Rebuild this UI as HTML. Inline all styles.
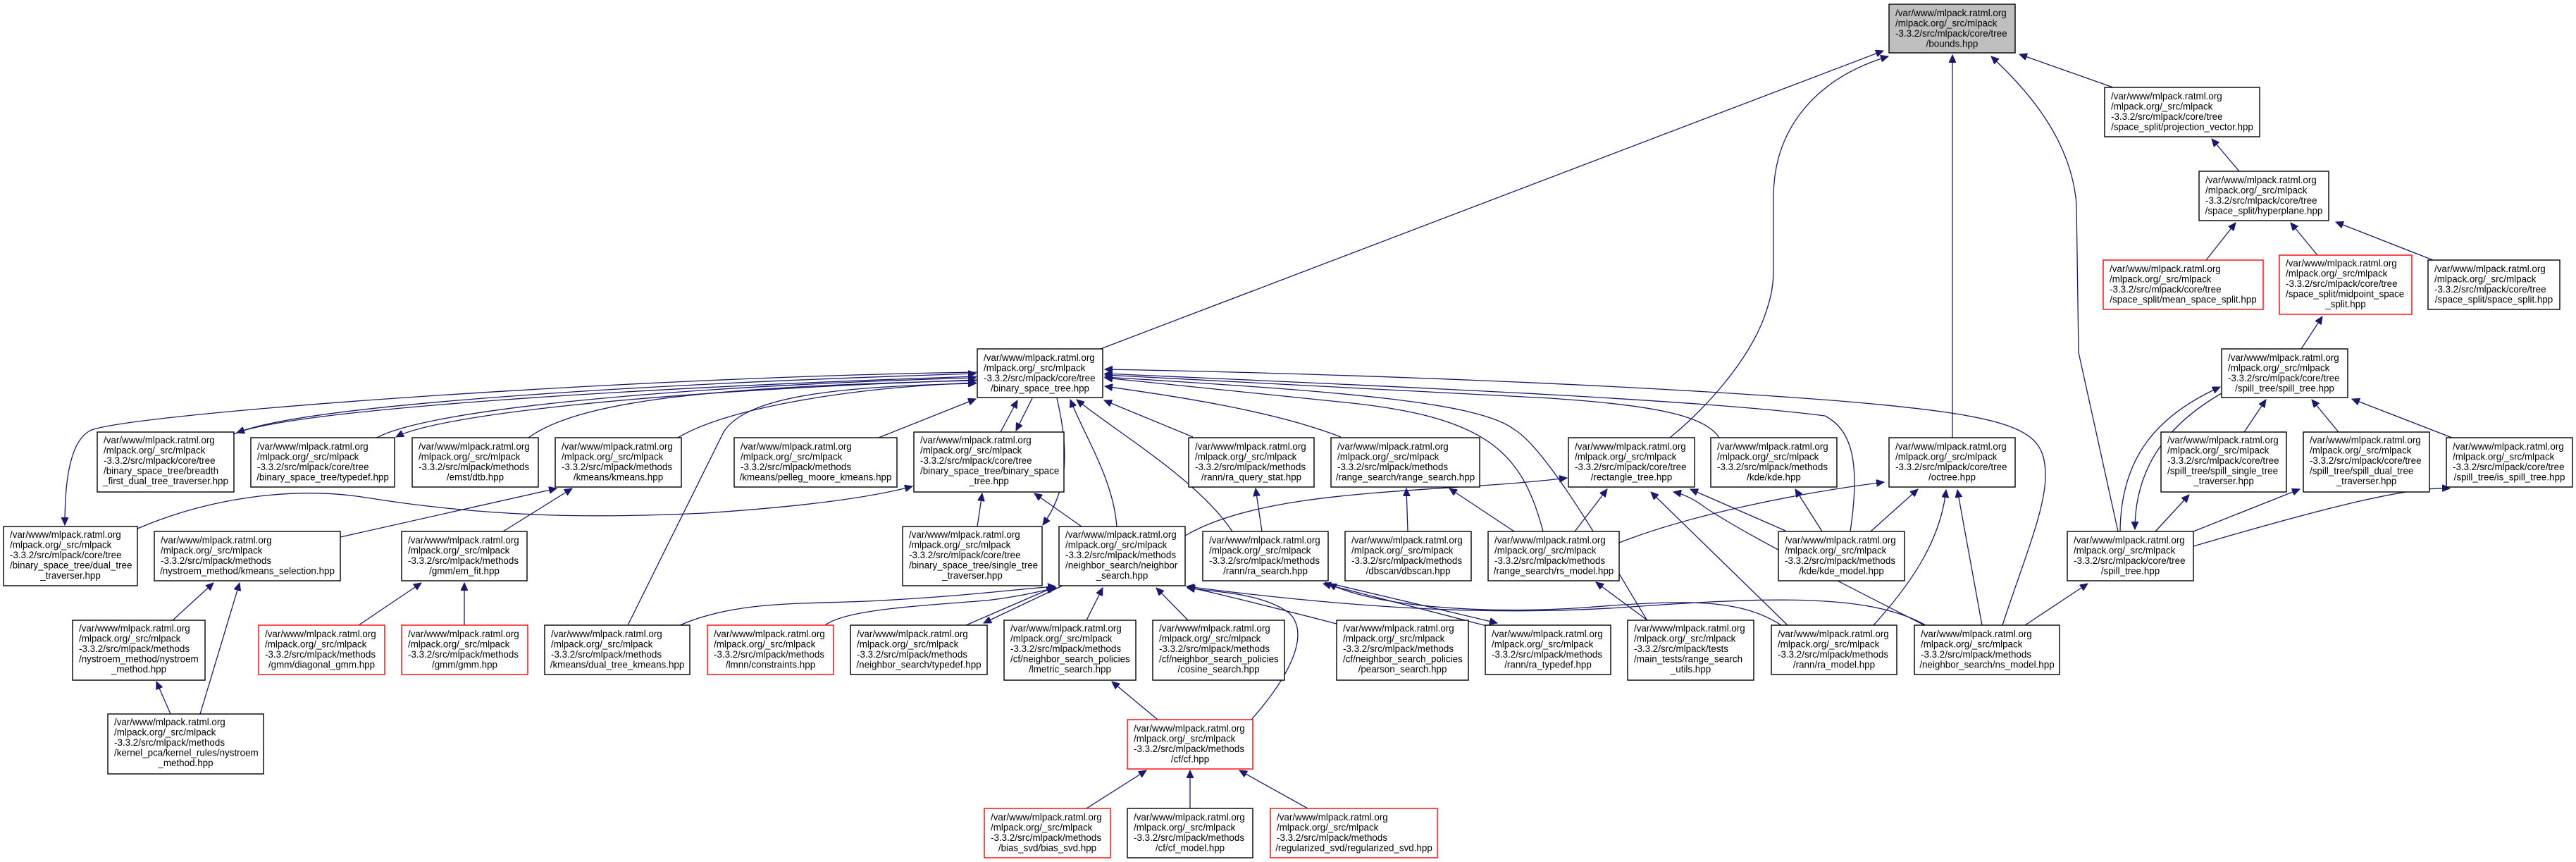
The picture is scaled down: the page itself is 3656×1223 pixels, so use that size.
<!DOCTYPE html>
<html><head><meta charset="utf-8"><style>
html,body{margin:0;padding:0;background:#fff;}
svg{display:block;}
text{font-family:"Liberation Sans",Arial,sans-serif;font-size:13.4px;fill:#000;}
.n{fill:#fff;stroke:#000;stroke-width:1.4;}
.r{fill:#fff;stroke:#ff0000;stroke-width:1.4;}
.g{fill:#bfbfbf;stroke:#000;stroke-width:1.4;}
path.e{fill:none;stroke:#191970;stroke-width:1.3;marker-end:url(#a);}
</style></head><body>
<svg width="3656" height="1223" viewBox="0 0 3656 1223" xmlns="http://www.w3.org/2000/svg">
<defs><marker id="a" markerUnits="userSpaceOnUse" markerWidth="12" markerHeight="10" refX="11" refY="5" orient="auto"><path d="M0,0 L11,5 L0,10 z" fill="#191970" stroke="#191970"/></marker></defs>

<!-- EDGES -->
<path class="e" d="M1562,495 L2673,72"/>
<path class="e" d="M2370,621 C2420,580 2474,520 2500,460 C2516,420 2517,400 2517,380 L2517,280 C2517,180 2580,110 2680,80"/>
<path class="e" d="M2771,621 L2771,78"/>
<path class="e" d="M3006,754 L2950,500 L2947,290 C2940,200 2880,130 2826,80"/>
<path class="e" d="M2999,124 L2866,77"/>
<path class="e" d="M3178,243 L3139,197"/>
<path class="e" d="M3131,369 L3173,316"/>
<path class="e" d="M3289,362 L3251,316"/>
<path class="e" d="M3453,369 L3315,315"/>
<path class="e" d="M3266,495 L3296,449"/>
<path class="e" d="M3185,613 L3216,567"/>
<path class="e" d="M3319,613 L3281,567"/>
<path class="e" d="M3480,621 L3338,566"/>
<path class="e" d="M3009,754 C3010,650 3060,590 3151,549"/>
<path class="e" d="M3153,558 C3080,600 3030,660 3030,751"/>
<path class="e" d="M3059,754 L3107,702"/>
<path class="e" d="M3113,754 L3264,694"/>
<path class="e" d="M3113,775 C3300,720 3420,690 3477,693"/>
<path class="e" d="M2874,887 L2963,828"/>

<!-- bst connections -->
<path class="e" d="M332,616 C420,575 900,545 1385,530"/>
<path class="e" d="M1387,534 C900,550 430,580 336,614"/>
<path class="e" d="M535,621 C600,585 900,550 1385,536"/>
<path class="e" d="M1387,539 C900,556 620,590 562,620"/>
<path class="e" d="M750,621 C820,570 1000,548 1385,540"/>
<path class="e" d="M962,621 C1030,580 1200,550 1385,543"/>
<path class="e" d="M1247,621 L1385,566"/>
<path class="e" d="M1387,528 C900,535 200,585 130,610 C95,625 92,700 92,745"/>
<path class="e" d="M195,750 C300,705 420,690 520,706 C700,735 850,735 1000,728 C1150,718 1240,705 1295,690"/>
<path class="e" d="M891,887 L1027,613 C1060,560 1200,548 1385,544"/>
<path class="e" d="M1420,613 L1444,568"/>
<path class="e" d="M1465,565 L1442,611"/>
<path class="e" d="M1500,565 C1520,650 1512,700 1480,745"/>
<path class="e" d="M1387,747 L1394,700"/>
<path class="e" d="M1535,747 L1468,700"/>
<path class="e" d="M1585,747 C1580,680 1540,620 1519,567"/>
<path class="e" d="M1749,754 C1700,680 1580,610 1528,567"/>
<path class="e" d="M1693,620 L1567,568"/>
<path class="e" d="M1903,620 C1800,580 1650,560 1568,548"/>
<path class="e" d="M1791,754 L1782,693"/>
<path class="e" d="M1998,754 L1996,693"/>
<path class="e" d="M2149,754 L2057,693"/>
<path class="e" d="M1682,760 C1800,690 2050,700 2224,678"/>
<path class="e" d="M2235,754 L2281,694"/>
<path class="e" d="M2190,754 C2160,640 2110,590 1900,570 L1568,536"/>
<path class="e" d="M2342,887 C2300,820 2200,640 2150,610 C2100,570 1900,555 1568,535"/>
<path class="e" d="M2298,770 C2400,730 2550,700 2674,684"/>
<path class="e" d="M2440,621 C2420,590 2350,575 2200,565 L1568,532"/>
<path class="e" d="M2537,887 L2343,698"/>
<path class="e" d="M2731,887 C2600,820 2480,760 2420,720 C2400,705 2385,700 2375,698"/>
<path class="e" d="M2534,753 L2399,694"/>
<path class="e" d="M2586,754 L2548,694"/>
<path class="e" d="M2655,754 L2722,694"/>
<path class="e" d="M2626,754 C2640,660 2630,610 2590,590 C2400,565 1900,545 1568,530"/>
<path class="e" d="M2659,887 C2720,820 2755,760 2762,695"/>
<path class="e" d="M2813,887 L2778,695"/>
<path class="e" d="M2842,887 C2870,800 2905,720 2903,670 C2900,610 2870,590 2600,568 C2300,545 1900,530 1568,524"/>
<path class="e" d="M2338,880 L2265,826"/>
<path class="e" d="M2528,887 C2470,850 2400,850 2250,862 C2100,872 1950,860 1886,828"/>
<path class="e" d="M2733,887 C2650,840 2500,848 2300,862 C2100,875 1900,860 1684,832"/>
<path class="e" d="M2110,888 L1878,828"/>
<path class="e" d="M1880,826 L2125,884"/>

<!-- kmeans / gmm -->
<path class="e" d="M483,762 L790,693"/>
<path class="e" d="M714,754 L812,693"/>
<path class="e" d="M245,880 L303,827"/>
<path class="e" d="M284,1013 L340,827"/>
<path class="e" d="M242,1013 L222,967"/>
<path class="e" d="M509,887 L598,827"/>
<path class="e" d="M659,887 L659,827"/>

<!-- neighbor search children -->
<path class="e" d="M1371,887 L1496,833"/>
<path class="e" d="M1508,831 L1396,884"/>
<path class="e" d="M1542,880 L1565,834"/>
<path class="e" d="M1686,880 L1641,834"/>
<path class="e" d="M1897,885 C1800,860 1720,840 1685,833"/>
<path class="e" d="M1776,1021 C1830,960 1860,900 1830,870 C1790,840 1720,840 1685,834"/>
<path class="e" d="M1643,1021 L1578,967"/>
<path class="e" d="M1542,1147 L1627,1093"/>
<path class="e" d="M1689,1147 L1689,1093"/>
<path class="e" d="M1856,1147 L1759,1093"/>
<path class="e" d="M965,887 C1050,850 1150,858 1250,852 C1380,845 1450,835 1498,832"/>
<path class="e" d="M1171,887 C1200,865 1300,860 1400,852 C1450,846 1480,838 1499,834"/>

<!-- NODES -->
<g id="nodes">
<rect class="g" x="2681" y="6" width="179" height="69"/>
<text x="2690" y="23">/var/www/mlpack.ratml.org</text><text x="2690" y="37.5">/mlpack.org/_src/mlpack</text><text x="2690" y="52">-3.3.2/src/mlpack/core/tree</text><text x="2770.5" y="66.5" text-anchor="middle">/bounds.hpp</text>

<rect class="n" x="2987" y="124" width="220" height="70"/>
<text x="2996" y="141">/var/www/mlpack.ratml.org</text><text x="2996" y="155.5">/mlpack.org/_src/mlpack</text><text x="2996" y="170">-3.3.2/src/mlpack/core/tree</text><text x="3097" y="184.5" text-anchor="middle">/space_split/projection_vector.hpp</text>

<rect class="n" x="3121" y="243" width="184" height="70"/>
<text x="3130" y="260">/var/www/mlpack.ratml.org</text><text x="3130" y="274.5">/mlpack.org/_src/mlpack</text><text x="3130" y="289">-3.3.2/src/mlpack/core/tree</text><text x="3213" y="303.5" text-anchor="middle">/space_split/hyperplane.hpp</text>

<rect class="r" x="2985" y="369" width="227" height="70"/>
<text x="2994" y="386">/var/www/mlpack.ratml.org</text><text x="2994" y="400.5">/mlpack.org/_src/mlpack</text><text x="2994" y="415">-3.3.2/src/mlpack/core/tree</text><text x="3098.5" y="429.5" text-anchor="middle">/space_split/mean_space_split.hpp</text>

<rect class="r" x="3235" y="362" width="188" height="84"/>
<text x="3244" y="378">/var/www/mlpack.ratml.org</text><text x="3244" y="392.5">/mlpack.org/_src/mlpack</text><text x="3244" y="407">-3.3.2/src/mlpack/core/tree</text><text x="3244" y="421.5">/space_split/midpoint_space</text><text x="3329" y="436" text-anchor="middle">_split.hpp</text>

<rect class="n" x="3446" y="369" width="187" height="70"/>
<text x="3455" y="386">/var/www/mlpack.ratml.org</text><text x="3455" y="400.5">/mlpack.org/_src/mlpack</text><text x="3455" y="415">-3.3.2/src/mlpack/core/tree</text><text x="3539.5" y="429.5" text-anchor="middle">/space_split/space_split.hpp</text>

<rect class="n" x="3153" y="495" width="179" height="69"/>
<text x="3162" y="512">/var/www/mlpack.ratml.org</text><text x="3162" y="526.5">/mlpack.org/_src/mlpack</text><text x="3162" y="541">-3.3.2/src/mlpack/core/tree</text><text x="3242.5" y="555.5" text-anchor="middle">/spill_tree/spill_tree.hpp</text>

<rect class="n" x="1387" y="495" width="178" height="69"/>
<text x="1396" y="512">/var/www/mlpack.ratml.org</text><text x="1396" y="526.5">/mlpack.org/_src/mlpack</text><text x="1396" y="541">-3.3.2/src/mlpack/core/tree</text><text x="1476" y="555.5" text-anchor="middle">/binary_space_tree.hpp</text>

<rect class="n" x="138" y="613" width="194" height="85"/>
<text x="147" y="629">/var/www/mlpack.ratml.org</text><text x="147" y="643.5">/mlpack.org/_src/mlpack</text><text x="147" y="658">-3.3.2/src/mlpack/core/tree</text><text x="147" y="672.5">/binary_space_tree/breadth</text><text x="235" y="687" text-anchor="middle">_first_dual_tree_traverser.hpp</text>

<rect class="n" x="356" y="621" width="204" height="70"/>
<text x="365" y="638">/var/www/mlpack.ratml.org</text><text x="365" y="652.5">/mlpack.org/_src/mlpack</text><text x="365" y="667">-3.3.2/src/mlpack/core/tree</text><text x="458" y="681.5" text-anchor="middle">/binary_space_tree/typedef.hpp</text>

<rect class="n" x="585" y="621" width="179" height="70"/>
<text x="594" y="638">/var/www/mlpack.ratml.org</text><text x="594" y="652.5">/mlpack.org/_src/mlpack</text><text x="594" y="667">-3.3.2/src/mlpack/methods</text><text x="674.5" y="681.5" text-anchor="middle">/emst/dtb.hpp</text>

<rect class="n" x="788" y="621" width="179" height="70"/>
<text x="797" y="638">/var/www/mlpack.ratml.org</text><text x="797" y="652.5">/mlpack.org/_src/mlpack</text><text x="797" y="667">-3.3.2/src/mlpack/methods</text><text x="877.5" y="681.5" text-anchor="middle">/kmeans/kmeans.hpp</text>

<rect class="n" x="1042" y="621" width="231" height="70"/>
<text x="1051" y="638">/var/www/mlpack.ratml.org</text><text x="1051" y="652.5">/mlpack.org/_src/mlpack</text><text x="1051" y="667">-3.3.2/src/mlpack/methods</text><text x="1157.5" y="681.5" text-anchor="middle">/kmeans/pelleg_moore_kmeans.hpp</text>

<rect class="n" x="1297" y="613" width="213" height="85"/>
<text x="1306" y="629">/var/www/mlpack.ratml.org</text><text x="1306" y="643.5">/mlpack.org/_src/mlpack</text><text x="1306" y="658">-3.3.2/src/mlpack/core/tree</text><text x="1306" y="672.5">/binary_space_tree/binary_space</text><text x="1403.5" y="687" text-anchor="middle">_tree.hpp</text>

<rect class="n" x="1687" y="621" width="178" height="70"/>
<text x="1696" y="638">/var/www/mlpack.ratml.org</text><text x="1696" y="652.5">/mlpack.org/_src/mlpack</text><text x="1696" y="667">-3.3.2/src/mlpack/methods</text><text x="1776" y="681.5" text-anchor="middle">/rann/ra_query_stat.hpp</text>

<rect class="n" x="1889" y="621" width="211" height="70"/>
<text x="1898" y="638">/var/www/mlpack.ratml.org</text><text x="1898" y="652.5">/mlpack.org/_src/mlpack</text><text x="1898" y="667">-3.3.2/src/mlpack/methods</text><text x="1994.5" y="681.5" text-anchor="middle">/range_search/range_search.hpp</text>

<rect class="n" x="2226" y="621" width="179" height="70"/>
<text x="2235" y="638">/var/www/mlpack.ratml.org</text><text x="2235" y="652.5">/mlpack.org/_src/mlpack</text><text x="2235" y="667">-3.3.2/src/mlpack/core/tree</text><text x="2315.5" y="681.5" text-anchor="middle">/rectangle_tree.hpp</text>

<rect class="n" x="2428" y="621" width="179" height="70"/>
<text x="2437" y="638">/var/www/mlpack.ratml.org</text><text x="2437" y="652.5">/mlpack.org/_src/mlpack</text><text x="2437" y="667">-3.3.2/src/mlpack/methods</text><text x="2517.5" y="681.5" text-anchor="middle">/kde/kde.hpp</text>

<rect class="n" x="2681" y="621" width="179" height="70"/>
<text x="2690" y="638">/var/www/mlpack.ratml.org</text><text x="2690" y="652.5">/mlpack.org/_src/mlpack</text><text x="2690" y="667">-3.3.2/src/mlpack/core/tree</text><text x="2770.5" y="681.5" text-anchor="middle">/octree.hpp</text>

<rect class="n" x="3067" y="613" width="178" height="85"/>
<text x="3076" y="629">/var/www/mlpack.ratml.org</text><text x="3076" y="643.5">/mlpack.org/_src/mlpack</text><text x="3076" y="658">-3.3.2/src/mlpack/core/tree</text><text x="3076" y="672.5">/spill_tree/spill_single_tree</text><text x="3156" y="687" text-anchor="middle">_traverser.hpp</text>

<rect class="n" x="3269" y="613" width="179" height="85"/>
<text x="3278" y="629">/var/www/mlpack.ratml.org</text><text x="3278" y="643.5">/mlpack.org/_src/mlpack</text><text x="3278" y="658">-3.3.2/src/mlpack/core/tree</text><text x="3278" y="672.5">/spill_tree/spill_dual_tree</text><text x="3358.5" y="687" text-anchor="middle">_traverser.hpp</text>

<rect class="n" x="3472" y="621" width="179" height="70"/>
<text x="3481" y="638">/var/www/mlpack.ratml.org</text><text x="3481" y="652.5">/mlpack.org/_src/mlpack</text><text x="3481" y="667">-3.3.2/src/mlpack/core/tree</text><text x="3561.5" y="681.5" text-anchor="middle">/spill_tree/is_spill_tree.hpp</text>

<rect class="n" x="5" y="747" width="190" height="84"/>
<text x="14" y="763">/var/www/mlpack.ratml.org</text><text x="14" y="777.5">/mlpack.org/_src/mlpack</text><text x="14" y="792">-3.3.2/src/mlpack/core/tree</text><text x="14" y="806.5">/binary_space_tree/dual_tree</text><text x="100" y="821" text-anchor="middle">_traverser.hpp</text>

<rect class="n" x="219" y="754" width="264" height="70"/>
<text x="228" y="771">/var/www/mlpack.ratml.org</text><text x="228" y="785.5">/mlpack.org/_src/mlpack</text><text x="228" y="800">-3.3.2/src/mlpack/methods</text><text x="351" y="814.5" text-anchor="middle">/nystroem_method/kmeans_selection.hpp</text>

<rect class="n" x="570" y="754" width="178" height="70"/>
<text x="579" y="771">/var/www/mlpack.ratml.org</text><text x="579" y="785.5">/mlpack.org/_src/mlpack</text><text x="579" y="800">-3.3.2/src/mlpack/methods</text><text x="659" y="814.5" text-anchor="middle">/gmm/em_fit.hpp</text>

<rect class="n" x="1281" y="747" width="198" height="84"/>
<text x="1290" y="763">/var/www/mlpack.ratml.org</text><text x="1290" y="777.5">/mlpack.org/_src/mlpack</text><text x="1290" y="792">-3.3.2/src/mlpack/core/tree</text><text x="1290" y="806.5">/binary_space_tree/single_tree</text><text x="1380" y="821" text-anchor="middle">_traverser.hpp</text>

<rect class="n" x="1503" y="747" width="179" height="84"/>
<text x="1512" y="763">/var/www/mlpack.ratml.org</text><text x="1512" y="777.5">/mlpack.org/_src/mlpack</text><text x="1512" y="792">-3.3.2/src/mlpack/methods</text><text x="1512" y="806.5">/neighbor_search/neighbor</text><text x="1592.5" y="821" text-anchor="middle">_search.hpp</text>

<rect class="n" x="1707" y="754" width="178" height="70"/>
<text x="1716" y="771">/var/www/mlpack.ratml.org</text><text x="1716" y="785.5">/mlpack.org/_src/mlpack</text><text x="1716" y="800">-3.3.2/src/mlpack/methods</text><text x="1796" y="814.5" text-anchor="middle">/rann/ra_search.hpp</text>

<rect class="n" x="1909" y="754" width="179" height="70"/>
<text x="1918" y="771">/var/www/mlpack.ratml.org</text><text x="1918" y="785.5">/mlpack.org/_src/mlpack</text><text x="1918" y="800">-3.3.2/src/mlpack/methods</text><text x="1998.5" y="814.5" text-anchor="middle">/dbscan/dbscan.hpp</text>

<rect class="n" x="2112" y="754" width="186" height="70"/>
<text x="2121" y="771">/var/www/mlpack.ratml.org</text><text x="2121" y="785.5">/mlpack.org/_src/mlpack</text><text x="2121" y="800">-3.3.2/src/mlpack/methods</text><text x="2205" y="814.5" text-anchor="middle">/range_search/rs_model.hpp</text>

<rect class="n" x="2524" y="754" width="179" height="70"/>
<text x="2533" y="771">/var/www/mlpack.ratml.org</text><text x="2533" y="785.5">/mlpack.org/_src/mlpack</text><text x="2533" y="800">-3.3.2/src/mlpack/methods</text><text x="2613.5" y="814.5" text-anchor="middle">/kde/kde_model.hpp</text>

<rect class="n" x="2934" y="754" width="179" height="70"/>
<text x="2943" y="771">/var/www/mlpack.ratml.org</text><text x="2943" y="785.5">/mlpack.org/_src/mlpack</text><text x="2943" y="800">-3.3.2/src/mlpack/core/tree</text><text x="3023.5" y="814.5" text-anchor="middle">/spill_tree.hpp</text>

<rect class="n" x="103" y="880" width="188" height="85"/>
<text x="112" y="896">/var/www/mlpack.ratml.org</text><text x="112" y="910.5">/mlpack.org/_src/mlpack</text><text x="112" y="925">-3.3.2/src/mlpack/methods</text><text x="112" y="939.5">/nystroem_method/nystroem</text><text x="197" y="954" text-anchor="middle">_method.hpp</text>

<rect class="r" x="367" y="887" width="179" height="70"/>
<text x="376" y="904">/var/www/mlpack.ratml.org</text><text x="376" y="918.5">/mlpack.org/_src/mlpack</text><text x="376" y="933">-3.3.2/src/mlpack/methods</text><text x="456.5" y="947.5" text-anchor="middle">/gmm/diagonal_gmm.hpp</text>

<rect class="r" x="570" y="887" width="179" height="70"/>
<text x="579" y="904">/var/www/mlpack.ratml.org</text><text x="579" y="918.5">/mlpack.org/_src/mlpack</text><text x="579" y="933">-3.3.2/src/mlpack/methods</text><text x="659.5" y="947.5" text-anchor="middle">/gmm/gmm.hpp</text>

<rect class="n" x="773" y="887" width="206" height="70"/>
<text x="782" y="904">/var/www/mlpack.ratml.org</text><text x="782" y="918.5">/mlpack.org/_src/mlpack</text><text x="782" y="933">-3.3.2/src/mlpack/methods</text><text x="876" y="947.5" text-anchor="middle">/kmeans/dual_tree_kmeans.hpp</text>

<rect class="r" x="1004" y="887" width="179" height="70"/>
<text x="1013" y="904">/var/www/mlpack.ratml.org</text><text x="1013" y="918.5">/mlpack.org/_src/mlpack</text><text x="1013" y="933">-3.3.2/src/mlpack/methods</text><text x="1093.5" y="947.5" text-anchor="middle">/lmnn/constraints.hpp</text>

<rect class="n" x="1207" y="887" width="194" height="70"/>
<text x="1216" y="904">/var/www/mlpack.ratml.org</text><text x="1216" y="918.5">/mlpack.org/_src/mlpack</text><text x="1216" y="933">-3.3.2/src/mlpack/methods</text><text x="1304" y="947.5" text-anchor="middle">/neighbor_search/typedef.hpp</text>

<rect class="n" x="1425" y="880" width="187" height="85"/>
<text x="1434" y="896">/var/www/mlpack.ratml.org</text><text x="1434" y="910.5">/mlpack.org/_src/mlpack</text><text x="1434" y="925">-3.3.2/src/mlpack/methods</text><text x="1434" y="939.5">/cf/neighbor_search_policies</text><text x="1518.5" y="954" text-anchor="middle">/lmetric_search.hpp</text>

<rect class="n" x="1636" y="880" width="187" height="85"/>
<text x="1645" y="896">/var/www/mlpack.ratml.org</text><text x="1645" y="910.5">/mlpack.org/_src/mlpack</text><text x="1645" y="925">-3.3.2/src/mlpack/methods</text><text x="1645" y="939.5">/cf/neighbor_search_policies</text><text x="1729.5" y="954" text-anchor="middle">/cosine_search.hpp</text>

<rect class="n" x="1897" y="880" width="187" height="85"/>
<text x="1906" y="896">/var/www/mlpack.ratml.org</text><text x="1906" y="910.5">/mlpack.org/_src/mlpack</text><text x="1906" y="925">-3.3.2/src/mlpack/methods</text><text x="1906" y="939.5">/cf/neighbor_search_policies</text><text x="1990.5" y="954" text-anchor="middle">/pearson_search.hpp</text>

<rect class="n" x="2108" y="887" width="178" height="70"/>
<text x="2117" y="904">/var/www/mlpack.ratml.org</text><text x="2117" y="918.5">/mlpack.org/_src/mlpack</text><text x="2117" y="933">-3.3.2/src/mlpack/methods</text><text x="2197" y="947.5" text-anchor="middle">/rann/ra_typedef.hpp</text>

<rect class="n" x="2310" y="880" width="179" height="85"/>
<text x="2319" y="896">/var/www/mlpack.ratml.org</text><text x="2319" y="910.5">/mlpack.org/_src/mlpack</text><text x="2319" y="925">-3.3.2/src/mlpack/tests</text><text x="2319" y="939.5">/main_tests/range_search</text><text x="2399.5" y="954" text-anchor="middle">_utils.hpp</text>

<rect class="n" x="2514" y="887" width="178" height="70"/>
<text x="2523" y="904">/var/www/mlpack.ratml.org</text><text x="2523" y="918.5">/mlpack.org/_src/mlpack</text><text x="2523" y="933">-3.3.2/src/mlpack/methods</text><text x="2603" y="947.5" text-anchor="middle">/rann/ra_model.hpp</text>

<rect class="n" x="2717" y="887" width="206" height="70"/>
<text x="2726" y="904">/var/www/mlpack.ratml.org</text><text x="2726" y="918.5">/mlpack.org/_src/mlpack</text><text x="2726" y="933">-3.3.2/src/mlpack/methods</text><text x="2820" y="947.5" text-anchor="middle">/neighbor_search/ns_model.hpp</text>

<rect class="n" x="153" y="1013" width="221" height="85"/>
<text x="162" y="1029">/var/www/mlpack.ratml.org</text><text x="162" y="1043.5">/mlpack.org/_src/mlpack</text><text x="162" y="1058">-3.3.2/src/mlpack/methods</text><text x="162" y="1072.5">/kernel_pca/kernel_rules/nystroem</text><text x="263.5" y="1087" text-anchor="middle">_method.hpp</text>

<rect class="r" x="1600" y="1021" width="178" height="70"/>
<text x="1609" y="1038">/var/www/mlpack.ratml.org</text><text x="1609" y="1052.5">/mlpack.org/_src/mlpack</text><text x="1609" y="1067">-3.3.2/src/mlpack/methods</text><text x="1689" y="1081.5" text-anchor="middle">/cf/cf.hpp</text>

<rect class="r" x="1397" y="1147" width="179" height="70"/>
<text x="1406" y="1164">/var/www/mlpack.ratml.org</text><text x="1406" y="1178.5">/mlpack.org/_src/mlpack</text><text x="1406" y="1193">-3.3.2/src/mlpack/methods</text><text x="1486.5" y="1207.5" text-anchor="middle">/bias_svd/bias_svd.hpp</text>

<rect class="n" x="1600" y="1147" width="178" height="70"/>
<text x="1609" y="1164">/var/www/mlpack.ratml.org</text><text x="1609" y="1178.5">/mlpack.org/_src/mlpack</text><text x="1609" y="1193">-3.3.2/src/mlpack/methods</text><text x="1689" y="1207.5" text-anchor="middle">/cf/cf_model.hpp</text>

<rect class="r" x="1803" y="1147" width="237" height="70"/>
<text x="1812" y="1164">/var/www/mlpack.ratml.org</text><text x="1812" y="1178.5">/mlpack.org/_src/mlpack</text><text x="1812" y="1193">-3.3.2/src/mlpack/methods</text><text x="1921.5" y="1207.5" text-anchor="middle">/regularized_svd/regularized_svd.hpp</text>
</g>
</svg>
</body></html>
